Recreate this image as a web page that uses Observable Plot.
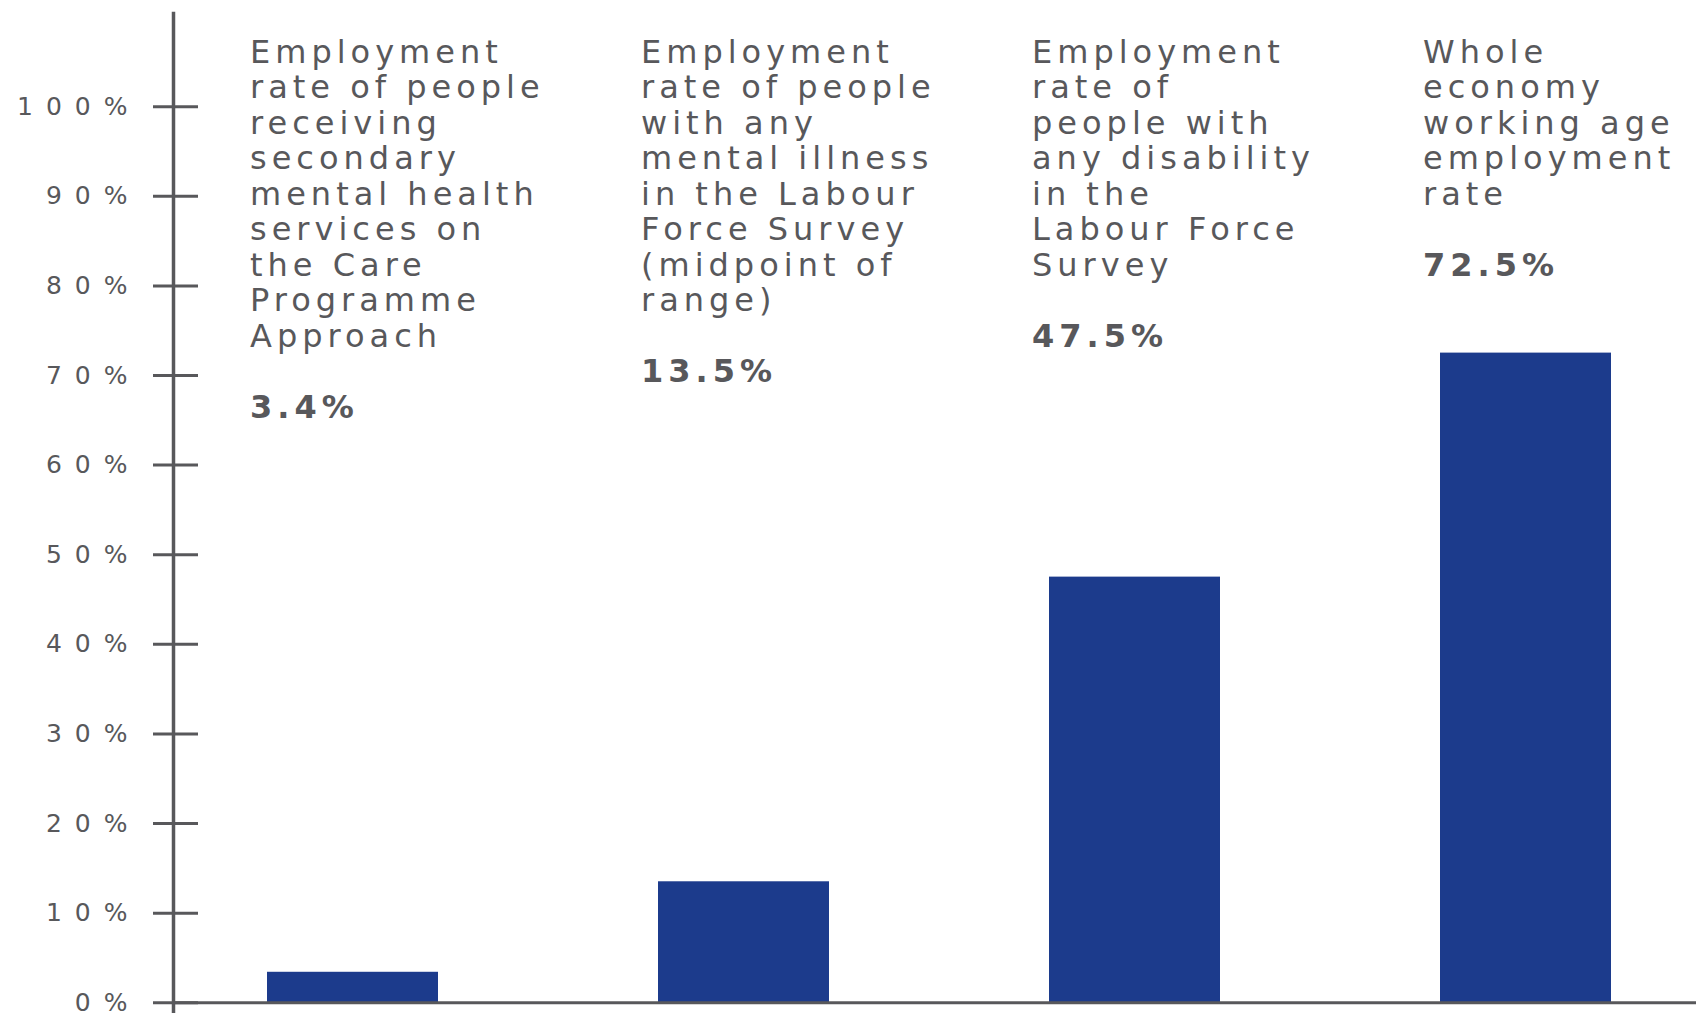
<!DOCTYPE html>
<html>
<head>
<meta charset="utf-8">
<script src="https://cdn.jsdelivr.net/npm/d3@7"></script>
<script src="https://cdn.jsdelivr.net/npm/@observablehq/plot@0.6"></script>
<style>
  html, body { margin: 0; padding: 0; background: #fff; }
  #chart svg { display: block; }
  #chart g[aria-label="y-axis tick label"] text { letter-spacing: 13px; }
  #chart g[aria-label="text"] text { letter-spacing: 5px; }
</style>
</head>
<body>
<div id="chart"></div>
<script>
const categories = ["CPA", "MI LFS", "Disability LFS", "Whole economy"];
const labelLines = [
  ["Employment", "rate of people", "receiving", "secondary", "mental health", "services on", "the Care", "Programme", "Approach"],
  ["Employment", "rate of people", "with any", "mental illness", "in the Labour", "Force Survey", "(midpoint of", "range)"],
  ["Employment", "rate of", "people with", "any disability", "in the", "Labour Force", "Survey"],
  ["Whole", "economy", "working age", "employment", "rate"]
];
const values = [0.034, 0.135, 0.475, 0.725];
const valueLabels = ["3.4%", "13.5%", "47.5%", "72.5%"];
const yTicks = [0, 0.1, 0.2, 0.3, 0.4, 0.5, 0.6, 0.7, 0.8, 0.9, 1.0];

const barColor = "#1c3b8c";
const gray = "#58585b";

const data = categories.map((c, i) => ({
  category: c,
  value: values[i],
  label: labelLines[i].join("\n"),
  valueText: "\n".repeat(labelLines[i].length + 1) + valueLabels[i]
}));

const chart = Plot.plot({
  width: 1696,
  height: 1013,
  marginLeft: 173,
  marginRight: 0,
  marginTop: 13,
  marginBottom: 0,
  style: { fontFamily: "DejaVu Sans, sans-serif", background: "#fff", color: gray },
  x: { domain: categories, axis: null, paddingInner: 0.563, paddingOuter: 0.227, align: 0.523 },
  y: { domain: [-0.012, 1.104], axis: null },
  marks: [
    Plot.barY(data, { x: "category", y: "value", fill: barColor }),
    Plot.ruleY([0], { stroke: gray, strokeWidth: 3 }),
    Plot.frame({ anchor: "left", stroke: gray, strokeWidth: 3.5 }),
    Plot.axisY(yTicks, { tickSize: 45, dx: 25, fill: "none", stroke: gray, strokeWidth: 3, label: null }),
    Plot.axisY(yTicks, { tickSize: 0, tickPadding: 33, stroke: "none", fill: gray, fontSize: 25, tickFormat: d3.format(".0%"), label: null }),
    Plot.text(data, {
      x: "category", frameAnchor: "top", text: "label", textAnchor: "start", lineAnchor: "top",
      dx: -103, dy: 24, fontSize: 32, lineHeight: 1.11, fill: gray
    }),
    Plot.text(data, {
      x: "category", frameAnchor: "top", text: "valueText", textAnchor: "start", lineAnchor: "top",
      dx: -103, dy: 24, fontSize: 32, lineHeight: 1.11, fill: gray, fontWeight: "bold"
    })
  ]
});
document.getElementById("chart").appendChild(chart);
</script>
</body>
</html>
